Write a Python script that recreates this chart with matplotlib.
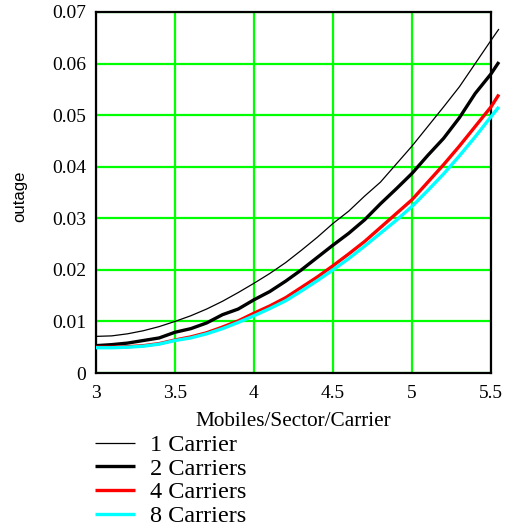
import matplotlib
matplotlib.use("Agg")
import matplotlib.pyplot as plt

# Mobiles per sector per carrier
load = [3.0, 3.1, 3.2, 3.3, 3.4, 3.5, 3.6, 3.7, 3.8, 3.9, 4.0, 4.1, 4.2, 4.3,
        4.4, 4.5, 4.6, 4.7, 4.8, 4.9, 5.0, 5.1, 5.2, 5.3, 5.4, 5.5, 5.55]

outage_1 = [0.0071, 0.0072, 0.0076, 0.0082, 0.0090, 0.0100, 0.0111, 0.0124, 0.0139,
            0.0156, 0.0174, 0.0193, 0.0214, 0.0238, 0.0263, 0.0290, 0.0314, 0.0343,
            0.0370, 0.0405, 0.0440, 0.0478, 0.0516, 0.0555, 0.0600, 0.0645, 0.0667]
outage_2 = [0.0053, 0.0055, 0.0058, 0.0063, 0.0068, 0.0079, 0.0086, 0.0097, 0.0113,
            0.0124, 0.0142, 0.0158, 0.0178, 0.0200, 0.0224, 0.0248, 0.0271, 0.0297,
            0.0328, 0.0357, 0.0387, 0.0422, 0.0455, 0.0495, 0.0542, 0.0580, 0.0603]
outage_4 = [0.0050, 0.0050, 0.0051, 0.0053, 0.0057, 0.0064, 0.0070, 0.0078, 0.0089,
            0.0101, 0.0116, 0.0130, 0.0146, 0.0166, 0.0186, 0.0208, 0.0231, 0.0255,
            0.0282, 0.0309, 0.0336, 0.0370, 0.0404, 0.0440, 0.0478, 0.0516, 0.0540]
outage_8 = [0.0049, 0.0049, 0.0050, 0.0052, 0.0056, 0.0063, 0.0068, 0.0076, 0.0086,
            0.0098, 0.0111, 0.0125, 0.0140, 0.0159, 0.0179, 0.0200, 0.0222, 0.0246,
            0.0271, 0.0296, 0.0323, 0.0354, 0.0386, 0.0421, 0.0458, 0.0497, 0.0516]

series_labels = ["1 Carrier", "2 Carriers", "4 Carriers", "8 Carriers"]
x_ticks = [3, 3.5, 4, 4.5, 5, 5.5]
x_ticklabels = ["3", "3.5", "4", "4.5", "5", "5.5"]
y_ticks = [0, 0.01, 0.02, 0.03, 0.04, 0.05, 0.06, 0.07]
y_ticklabels = ["0", "0.01", "0.02", "0.03", "0.04", "0.05", "0.06", "0.07"]

serif = ["Liberation Serif", "DejaVu Serif"]

fig = plt.figure(figsize=(5.14, 5.30), dpi=100)
ax = fig.add_axes([96 / 514, 1 - 373 / 530, (491 - 96) / 514, (373 - 12) / 530])

styles = [
    dict(color="black", lw=0.9),
    dict(color="black", lw=2.4),
    dict(color="#ff0000", lw=2.4),
    dict(color="#00ffff", lw=2.4),
]
series = [outage_1, outage_2, outage_4, outage_8]
handles = []
for vals, st, lab in zip(series, styles, series_labels):
    h, = ax.plot(load, vals, label=lab, clip_on=False, zorder=3,
                 solid_capstyle="butt", **st)
    handles.append(h)

ax.set_xlim(3, 5.5)
ax.set_ylim(0, 0.07)
ax.set_xticks(x_ticks)
ax.set_xticklabels(x_ticklabels)
ax.set_yticks(y_ticks)
ax.set_yticklabels(y_ticklabels)
ax.tick_params(axis="y", length=0, pad=7, labelsize=14)
ax.tick_params(axis="x", length=0, pad=9, labelsize=14)
for t in ax.get_xticklabels() + ax.get_yticklabels():
    t.set_family(serif)
ax.grid(True, color="#00ff00", lw=1.6)
ax.set_axisbelow(True)
for sp in ax.spines.values():
    sp.set_color("black")
    sp.set_linewidth(1.6)
    sp.set_zorder(2.5)

ax.set_xlabel("Mobiles/Sector/Carrier", family=serif, fontsize=15.3, labelpad=7)
fig.text(20 / 514, 1 - 196 / 530, "outage", rotation=90, ha="center", va="center",
         family=["Liberation Sans", "DejaVu Sans"], fontsize=12)

fig.legend(handles=handles, labels=series_labels, loc="upper left",
           bbox_to_anchor=(95 / 514, 1 - 434 / 530), frameon=False,
           prop={"family": serif, "size": 17.5}, handlelength=1.65,
           handletextpad=0.6, labelspacing=0.07, borderaxespad=0,
           borderpad=0)

fig.savefig("out.png", dpi=100)
